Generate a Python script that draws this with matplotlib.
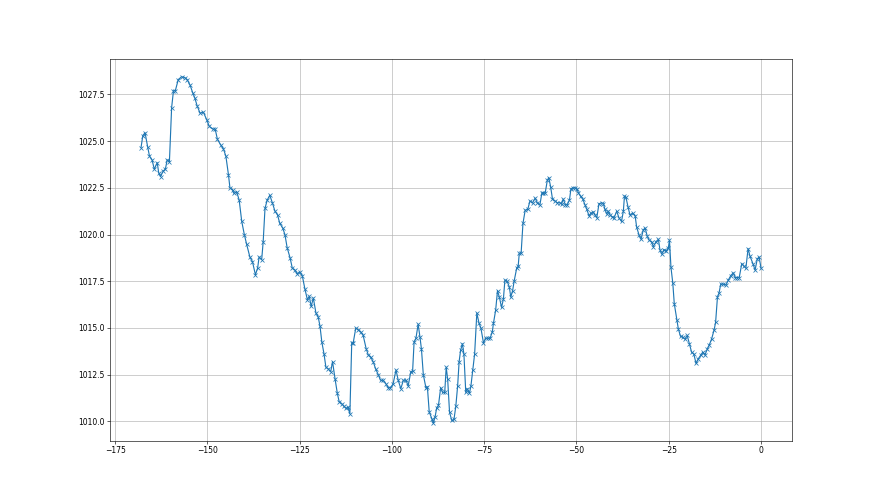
import matplotlib
matplotlib.use("Agg")
import matplotlib.pyplot as plt

# hours before now (irregular sampling) and pressure in hPa
hours = [
    -168.0, -167.5, -166.9, -166.2, -165.7, -165.0, -164.4, -163.6, -163.2, -162.7,
    -162.0, -161.4, -160.9, -160.3, -159.7, -159.2, -158.7, -157.9, -157.0, -156.1,
    -155.5, -154.7, -154.0, -153.4, -152.8, -152.0, -151.1, -150.2, -149.5, -148.6,
    -147.9, -147.3, -146.4, -145.7, -145.0, -144.3, -143.9, -143.2, -142.8, -142.1,
    -141.4, -140.7, -140.0, -139.4, -138.5, -137.8, -137.0, -136.4, -136.0, -135.3,
    -134.9, -134.4, -133.8, -133.1, -132.4, -131.7, -131.0, -130.4, -129.6, -129.0,
    -128.4, -127.6, -127.0, -126.3, -125.7, -125.0, -124.3, -123.6, -122.9, -122.4,
    -121.9, -121.3, -120.6, -120.0, -119.5, -119.0, -118.4, -117.9, -117.2, -116.6,
    -116.1, -115.4, -114.8, -114.3, -113.6, -113.0, -112.5, -111.9, -111.4, -110.9,
    -110.5, -109.8, -109.1, -108.5, -107.8, -107.0, -106.4, -105.8, -105.1, -104.4,
    -103.7, -103.1, -102.4, -101.6, -101.0, -100.4, -99.7, -98.9, -98.3, -97.6,
    -96.9, -96.2, -95.6, -94.9, -94.4, -94.0, -93.5, -92.9, -92.4, -92.0,
    -91.5, -90.8, -90.4, -89.9, -89.2, -88.8, -88.3, -87.9, -87.4, -86.8,
    -86.3, -85.7, -85.3, -84.9, -84.4, -83.8, -83.2, -82.7, -82.2, -81.8,
    -81.4, -80.9, -80.5, -80.0, -79.6, -79.0, -78.6, -78.1, -77.6, -77.0,
    -76.4, -75.9, -75.2, -74.6, -73.9, -73.4, -72.8, -72.5, -71.9, -71.4,
    -70.9, -70.3, -69.8, -69.4, -68.8, -68.2, -67.8, -67.3, -66.9, -66.2,
    -65.8, -65.5, -65.0, -64.5, -63.9, -63.2, -62.6, -61.9, -61.2, -60.6,
    -59.9, -59.4, -59.0, -58.5, -57.9, -57.5, -57.0, -56.5, -55.8, -55.2,
    -54.5, -54.0, -53.6, -53.0, -52.5, -51.9, -51.5, -51.0, -50.4, -49.9,
    -49.5, -48.9, -48.3, -47.7, -47.2, -46.6, -46.1, -45.4, -45.0, -44.5,
    -43.9, -43.2, -42.7, -42.3, -41.8, -41.4, -40.9, -40.3, -39.8, -39.1,
    -38.5, -37.8, -37.3, -37.0, -36.6, -36.0, -35.5, -34.8, -34.1, -33.7,
    -33.0, -32.5, -31.9, -31.4, -30.8, -30.3, -29.6, -29.2, -28.5, -27.8,
    -27.4, -26.9, -26.3, -25.7, -25.1, -24.8, -24.4, -23.9, -23.5, -22.8,
    -22.4, -21.8, -21.2, -20.6, -20.0, -19.4, -18.8, -18.2, -17.6, -17.0,
    -16.3, -15.8, -15.2, -14.6, -14.0, -13.4, -12.7, -12.3, -11.8, -11.4,
    -10.9, -10.2, -9.5, -8.9, -8.2, -7.5, -7.0, -6.4, -5.9, -5.2,
    -4.6, -4.1, -3.5, -3.0, -2.2, -1.6, -1.0, -0.5, 0.0,
]

pressure = [
    1024.65, 1025.3, 1025.45, 1024.7, 1024.2, 1024.0, 1023.5, 1023.85, 1023.3, 1023.1,
    1023.4, 1023.5, 1024.0, 1023.9, 1026.8, 1027.7, 1027.7, 1028.3, 1028.45, 1028.4,
    1028.3, 1028.0, 1027.6, 1027.3, 1026.9, 1026.5, 1026.55, 1026.15, 1025.8, 1025.65,
    1025.65, 1025.1, 1024.8, 1024.6, 1024.2, 1023.2, 1022.5, 1022.4, 1022.2, 1022.3,
    1021.85, 1020.7, 1020.0, 1019.5, 1018.8, 1018.55, 1017.85, 1018.2, 1018.8, 1018.65,
    1019.6, 1021.4, 1021.85, 1022.1, 1021.7, 1021.25, 1021.05, 1020.6, 1020.35, 1020.0,
    1019.3, 1018.75, 1018.2, 1018.1, 1017.9, 1018.0, 1017.8, 1017.1, 1016.5, 1016.7,
    1016.15, 1016.6, 1015.8, 1015.6, 1015.1, 1014.25, 1013.6, 1012.9, 1012.8, 1012.65,
    1013.2, 1012.25, 1011.5, 1011.05, 1010.95, 1010.8, 1010.7, 1010.75, 1010.4, 1014.2,
    1014.2, 1015.0, 1014.9, 1014.8, 1014.6, 1013.9, 1013.55, 1013.45, 1013.2, 1012.8,
    1012.5, 1012.2, 1012.2, 1012.0, 1011.8, 1011.8, 1012.0, 1012.75, 1012.2, 1011.75,
    1012.2, 1012.2, 1011.9, 1012.65, 1012.7, 1014.25, 1014.45, 1015.2, 1014.5, 1013.85,
    1012.5, 1011.8, 1011.85, 1010.5, 1010.15, 1009.9, 1010.25, 1010.7, 1010.85, 1011.8,
    1011.55, 1011.55, 1012.9, 1012.25, 1010.5, 1010.05, 1010.1, 1010.8, 1011.9, 1013.2,
    1013.8, 1014.15, 1013.6, 1011.55, 1011.75, 1011.5, 1011.9, 1012.75, 1013.6, 1015.8,
    1015.25, 1015.0, 1014.2, 1014.45, 1014.45, 1014.45, 1014.8, 1015.25, 1015.95, 1017.0,
    1016.65, 1016.1, 1016.55, 1017.55, 1017.5, 1017.2, 1016.65, 1017.0, 1017.5, 1018.2,
    1018.3, 1019.0, 1019.0, 1020.6, 1021.3, 1021.35, 1021.8, 1021.7, 1021.95, 1021.7,
    1021.6, 1022.2, 1022.25, 1022.2, 1022.9, 1023.05, 1022.55, 1021.9, 1021.8, 1021.7,
    1021.7, 1021.65, 1021.9, 1021.6, 1021.6, 1021.85, 1022.45, 1022.5, 1022.5, 1022.45,
    1022.25, 1022.05, 1021.9, 1021.6, 1021.35, 1021.0, 1021.15, 1021.2, 1021.05, 1020.9,
    1021.65, 1021.7, 1021.65, 1021.35, 1021.1, 1021.25, 1021.05, 1020.95, 1020.9, 1021.25,
    1020.9, 1020.7, 1021.25, 1022.05, 1022.0, 1021.45, 1021.05, 1021.15, 1021.0, 1020.4,
    1019.95, 1019.75, 1020.25, 1020.35, 1019.9, 1019.7, 1019.6, 1019.35, 1019.6, 1019.75,
    1019.2, 1018.95, 1019.2, 1019.1, 1019.3, 1019.7, 1018.25, 1017.4, 1016.3, 1015.45,
    1014.95, 1014.55, 1014.5, 1014.4, 1014.6, 1014.15, 1013.7, 1013.6, 1013.1, 1013.35,
    1013.55, 1013.7, 1013.55, 1013.85, 1014.1, 1014.4, 1014.9, 1015.3, 1016.65, 1016.85,
    1017.35, 1017.35, 1017.3, 1017.55, 1017.8, 1017.95, 1017.7, 1017.7, 1017.7, 1018.45,
    1018.3, 1018.2, 1019.25, 1018.85, 1018.45, 1018.1, 1018.7, 1018.8, 1018.2,
]

fig, ax = plt.subplots(figsize=(16, 9))
ax.plot(hours, pressure, marker='x', color='#1f77b4', linewidth=1.5)
ax.grid(True)

plt.savefig("out.png", dpi=55)
